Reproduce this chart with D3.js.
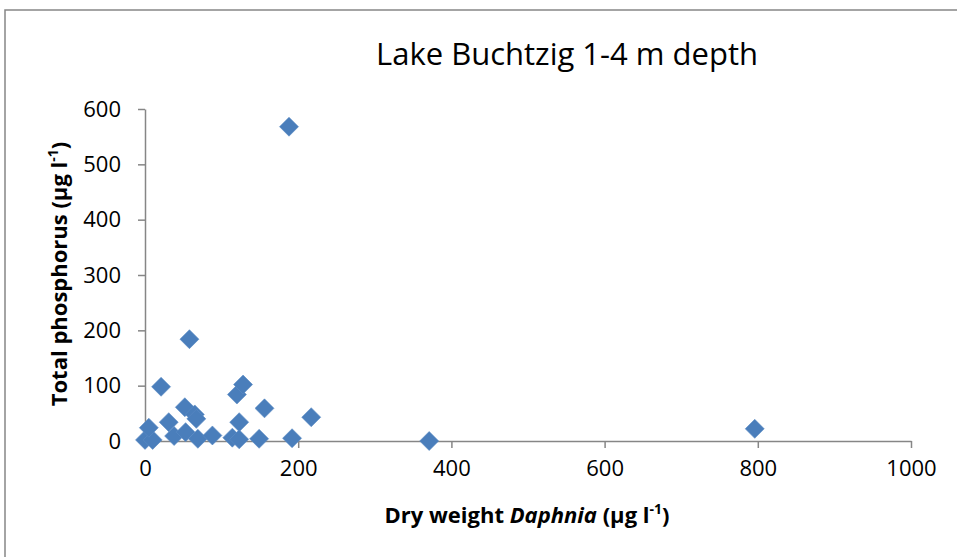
<!DOCTYPE html>
<html>
<head>
<meta charset="utf-8">
<script src="https://cdn.jsdelivr.net/npm/d3@7"></script>
<style>
  body { margin: 0; background: #fff; }
  svg { display: block; font-family: "Open Sans", "Noto Sans", sans-serif; }
  .axis path, .axis line { stroke: #868686; stroke-width: 1.5; }
  .axis text { font-size: 22px; fill: #000; font-family: "Open Sans", sans-serif; }
</style>
</head>
<body>
<svg id="chart"></svg>
<script>
// Lake Buchtzig, 1-4 m depth: Daphnia dry weight vs total phosphorus
const dryWeight = [0, 10, 5, 21, 31, 38, 52, 53, 58, 65, 67, 69, 88, 114, 120, 123, 123, 128, 149, 156, 188, 192, 217, 371, 796];
const totalP    = [2, 2, 24, 98, 34, 9, 61, 16, 184, 48, 40, 4, 10, 6, 84, 34, 3, 102, 4, 59, 568, 5, 43, 0, 22];
const xTicks = [0, 200, 400, 600, 800, 1000];
const yTicks = [0, 100, 200, 300, 400, 500, 600];

const width = 957;
const height = 557;
const margin = { top: 109, right: 46, bottom: 116, left: 145 };
const innerW = width - margin.left - margin.right;
const innerH = height - margin.top - margin.bottom;

const svg = d3.select('#chart')
  .attr('width', width)
  .attr('height', height);

// outer chart frame (runs off the right and bottom of the picture)
svg.append('rect')
  .attr('x', 5).attr('y', 10)
  .attr('width', 960).attr('height', 560)
  .attr('fill', '#fff')
  .attr('stroke', '#868686')
  .attr('stroke-width', 1.5);

const chart = svg.append('g')
  .attr('transform', `translate(${margin.left},${margin.top})`);

const xScale = d3.scaleLinear().domain([0, 1000]).range([0, innerW]);
const yScale = d3.scaleLinear().domain([0, 600]).range([innerH, 0]);

const xAxis = d3.axisBottom(xScale)
  .tickValues(xTicks)
  .tickSize(7)
  .tickSizeOuter(0)
  .tickPadding(12)
  .tickFormat(d3.format('d'));

const yAxis = d3.axisLeft(yScale)
  .tickValues(yTicks)
  .tickSize(7)
  .tickSizeOuter(0)
  .tickPadding(17)
  .tickFormat(d3.format('d'));

chart.append('g')
  .attr('class', 'axis y-axis')
  .call(yAxis);

chart.append('g')
  .attr('class', 'axis x-axis')
  .attr('transform', `translate(0,${innerH})`)
  .call(xAxis);

// points as diamonds
const r = 9.5;
const diamond = `M0,${-r}L${r},0L0,${r}L${-r},0Z`;
const points = dryWeight.map((d, i) => ({ x: d, y: totalP[i] }));

chart.selectAll('.pt')
  .data(points)
  .join('path')
  .attr('class', 'pt')
  .attr('d', diamond)
  .attr('transform', (d) => `translate(${xScale(d.x)},${yScale(d.y)})`)
  .attr('fill', '#4a7ebb')
  .attr('stroke', '#5a8bc4')
  .attr('stroke-width', 0.6);

// title
svg.append('text')
  .attr('x', 567)
  .attr('y', 65)
  .attr('text-anchor', 'middle')
  .style('font-size', '31px')
  .text('Lake Buchtzig 1-4 m depth');

// x axis title
const xt = svg.append('text')
  .attr('x', 527)
  .attr('y', 523)
  .attr('text-anchor', 'middle')
  .style('font-size', '22px')
  .style('font-weight', 'bold');
xt.append('tspan').text('Dry weight ');
xt.append('tspan').style('font-style', 'italic').text('Daphnia');
xt.append('tspan').text(' (µg l');
xt.append('tspan').attr('dy', -9).style('font-size', '14px').text('-1');
xt.append('tspan').attr('dy', 9).text(')');

// y axis title
const yt = svg.append('text')
  .attr('transform', 'translate(67,274) rotate(-90)')
  .attr('text-anchor', 'middle')
  .style('font-size', '22px')
  .style('font-weight', 'bold');
yt.append('tspan').text('Total phosphorus (µg l');
yt.append('tspan').attr('dy', -9).style('font-size', '14px').text('-1');
yt.append('tspan').attr('dy', 9).text(')');
</script>
</body>
</html>
